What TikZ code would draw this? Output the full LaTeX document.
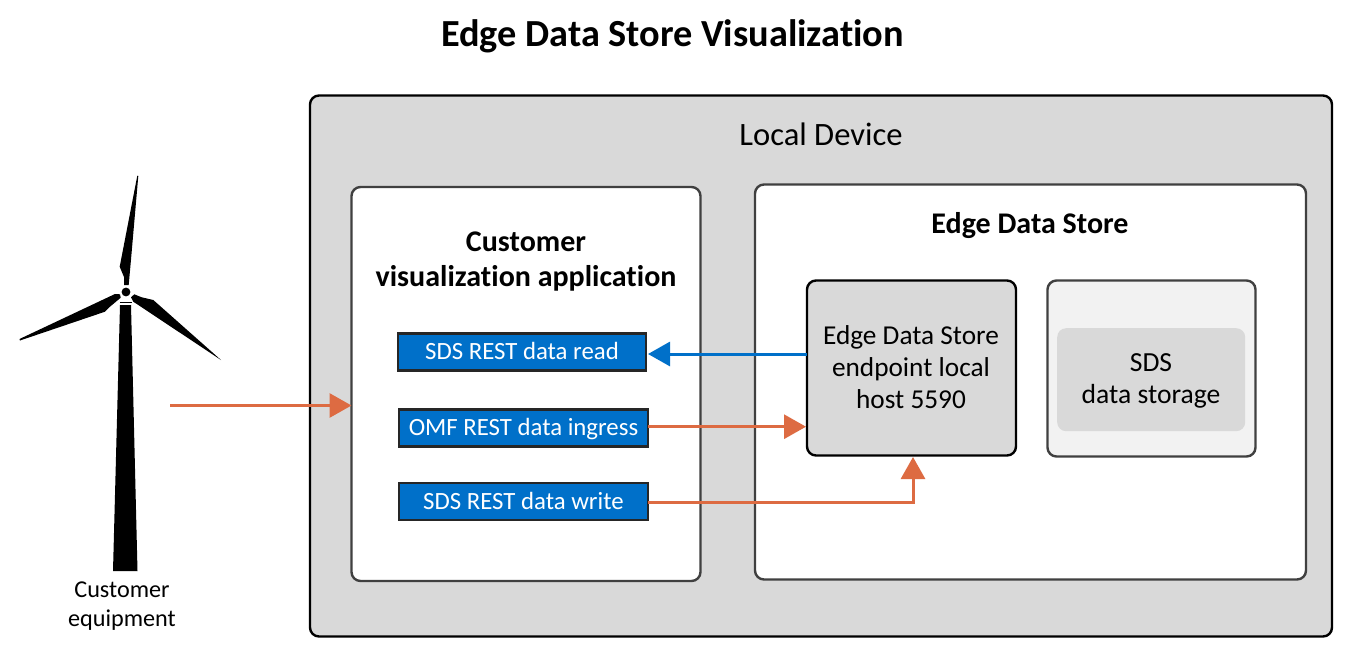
\documentclass[tikz,border=0pt]{standalone}
\usepackage{fontspec}
\setmainfont[Ligatures=CommonOff]{Carlito}
\usetikzlibrary{arrows.meta}
\definecolor{panelgray}{HTML}{D9D9D9}
\definecolor{storegray}{HTML}{F2F2F2}
\definecolor{edge}{HTML}{404040}
\definecolor{msblue}{HTML}{0070C9}
\definecolor{orangearrow}{HTML}{DD6B42}
\tikzset{
  x=1pt,y=-1pt,
  box/.style={draw=edge,line width=2.4pt,rounded corners=9pt,inner sep=0pt,outer sep=0pt,anchor=north west},
  btn/.style={draw=black!85,line width=2.4pt,fill=msblue,text=white,minimum width=248pt,minimum height=37pt,inner sep=0pt,outer sep=0pt,anchor=center,text height=16pt,text depth=0.5pt,font=\fontsize{24.8}{27}\selectfont},
  flow/.style={line width=3pt,-{Triangle[length=22pt,width=24pt]}},
  lbl/.style={inner sep=0pt,align=center,anchor=center},
}
\begin{document}
\begin{tikzpicture}
\useasboundingbox (0,0) rectangle (1348,648);
\node[lbl,font=\bfseries\fontsize{38.3}{44}\selectfont] (title) at (672.5,36.5) {Edge Data Store Visualization};
\node[box,draw=black,fill=panelgray,minimum width=1022pt,minimum height=541pt] (device) at (310,95.5) {};
\node[lbl,font=\fontsize{32.6}{38}\selectfont] (devlbl) at (821,134) {Local Device};
\node[box,fill=white,minimum width=349pt,minimum height=394pt] (app) at (351.5,187) {};
\node[lbl,font=\bfseries\fontsize{30}{35}\selectfont] (applbl) at (526,262) {Customer\\visualization application};
\node[box,fill=white,minimum width=551pt,minimum height=395pt] (eds) at (755,184.5) {};
\node[lbl,font=\bfseries\fontsize{30}{36}\selectfont] (edslbl) at (1030,226) {Edge Data Store};
\node[box,draw=black,fill=panelgray,minimum width=209pt,minimum height=175pt] (endpoint) at (807,280.5) {};
\node[lbl,font=\fontsize{27.3}{32}\selectfont] (endlbl) at (911,367.5) {Edge Data Store\\endpoint local\\host 5590};
\node[box,fill=storegray,minimum width=208pt,minimum height=176pt] (store) at (1047.5,280.5) {};
\node[fill=panelgray,rounded corners=9pt,minimum width=188pt,minimum height=103pt,inner sep=0pt,anchor=north west] (sds) at (1057,328) {};
\node[lbl,font=\fontsize{27.6}{32}\selectfont] (sdslbl) at (1151,380.5) {SDS\\data storage};
\node[btn] (read) at (522,352) {SDS REST data read};
\node[btn,minimum width=249pt] (omf) at (523.5,428) {OMF REST data ingress};
\node[btn,minimum width=249pt] (write) at (523.5,501.5) {SDS REST data write};
% turbine
\fill[black] (137.3,175.7) -- (138.3,176) -- (130.7,263) -- (128.7,285) -- (124,285) -- (124,277) -- (119.7,266.7) -- cycle;
\fill[black] (20,340.5) -- (19.5,339) -- (115,294) -- (120,294.3) -- (120.7,297.7) -- (110,306.7) -- (105,311.7) -- cycle;
\fill[black] (221,360) -- (153.3,300) -- (141.7,297.3) -- (134.3,294.3) -- (131,297.3) -- (133.3,301.7) -- cycle;
\fill[black] (126,292) circle (4.4);
\fill[black] (119.5,301.5) rectangle (132,303);
\fill[black] (120,305) -- (131,305) -- (137.5,571) -- (113,571) -- cycle;
\coordinate (src) at (170,405.5);
\node[lbl,font=\fontsize{24.2}{29}\selectfont] (cust) at (122,606) {Customer\\equipment};
\coordinate (readout) at (807,354);
\coordinate (readin) at (648,354);
\coordinate (omfout) at (648,426.7);
\coordinate (omfin) at (806,426.7);
\coordinate (writeout) at (648,502);
\coordinate (writein) at (913,457);
% connectors
\draw[flow,orangearrow] (src) -- (app.west |- src);
\draw[flow,msblue] (readout) -- (readin);
\draw[flow,orangearrow] (omfout) -- (omfin);
\draw[flow,orangearrow] (writeout) -| (writein);
\end{tikzpicture}
\end{document}
